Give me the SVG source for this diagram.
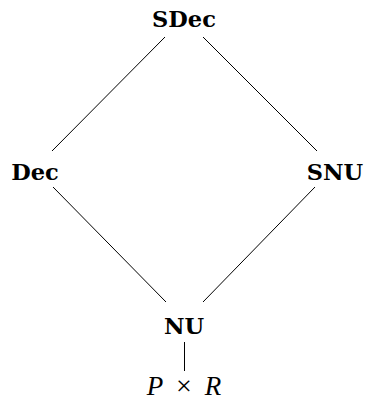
<svg xmlns="http://www.w3.org/2000/svg" width="368" height="407" viewBox="0 0 368 407">
<style>
.n{font-family:"DejaVu Serif","Liberation Serif",serif;font-weight:bold;font-size:22.5px;fill:#000;text-anchor:middle}
.m{font-family:"Liberation Serif",serif;font-style:italic;font-size:27px;fill:#000;text-anchor:middle}
.e{stroke:#000;stroke-width:1;fill:none}
</style>
<rect width="368" height="407" fill="#fff"/>
<g id="edges">
<line class="e" x1="165" y1="37" x2="52" y2="151"/>
<line class="e" x1="203" y1="37" x2="317" y2="151"/>
<line class="e" x1="53" y1="187" x2="166" y2="302"/>
<line class="e" x1="315" y1="187" x2="203" y2="302"/>
<line class="e" x1="184.5" y1="342" x2="184.5" y2="371"/>
</g>
<g id="SDec"><text class="n" x="184" y="27">SDec</text></g>
<g id="Dec"><text class="n" x="35" y="180">Dec</text></g>
<g id="SNU"><text class="n" x="335" y="180">SNU</text></g>
<g id="NU"><text class="n" x="184" y="334">NU</text></g>
<g id="PxR"><text class="m" y="395"><tspan x="155">P</tspan><tspan x="184" font-style="normal" font-size="28">×</tspan><tspan x="213">R</tspan></text></g>
</svg>
